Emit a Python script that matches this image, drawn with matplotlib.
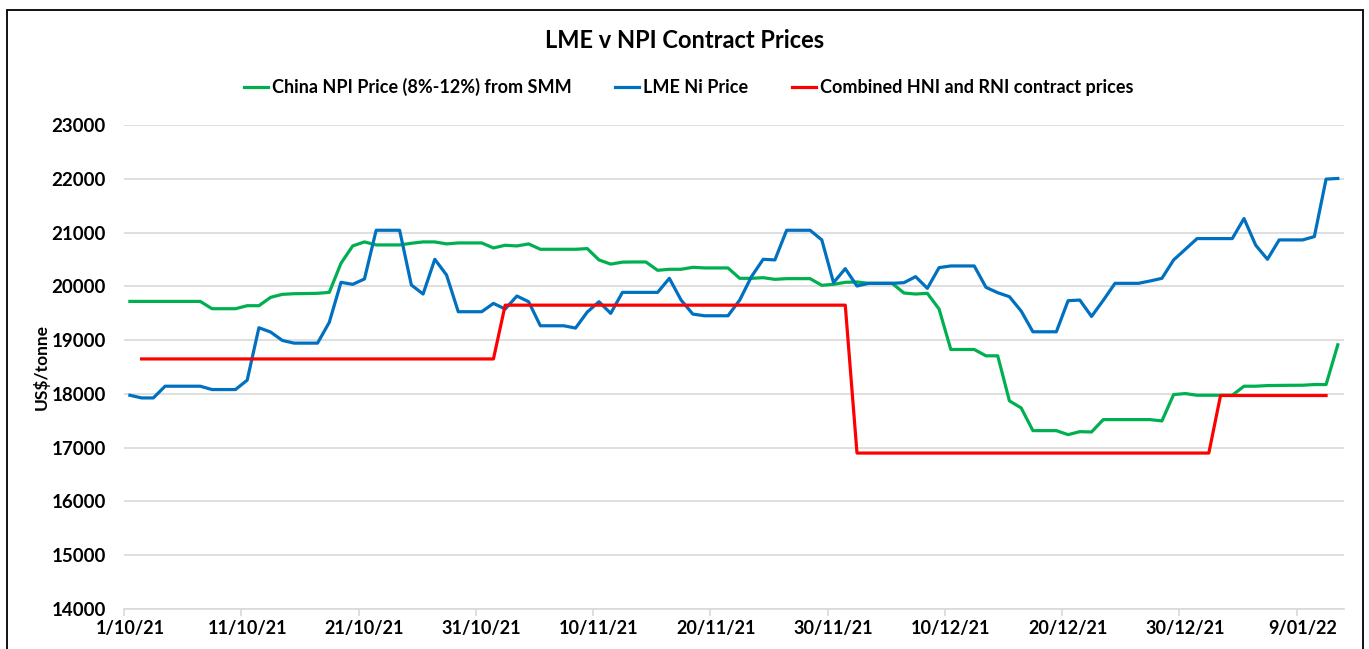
import matplotlib
matplotlib.use("Agg")
import matplotlib.pyplot as plt
from matplotlib.patches import Rectangle
import numpy as np
import pandas as pd

plt.rcParams['font.family'] = ['Lato', 'DejaVu Sans']

start_date = "2021-10-01"
n_days = 104

lme_ni = [17975, 17925, 17925, 18143, 18143, 18143, 18143, 18081, 18081, 18081,
          18255, 19230, 19150, 18994, 18944, 18944, 18944, 19330, 20075, 20037,
          20137, 21043, 21043, 21043, 20025, 19857, 20503, 20211, 19528, 19528,
          19528, 19683, 19578, 19820, 19714, 19267, 19267, 19267, 19224, 19522,
          19714, 19497, 19888, 19888, 19888, 19888, 20149, 19745, 19484, 19453,
          19453, 19453, 19745, 20180, 20503, 20491, 21043, 21043, 21043, 20863,
          20068, 20329, 20006, 20056, 20056, 20056, 20068, 20180, 19963, 20348,
          20379, 20379, 20379, 19981, 19882, 19807, 19540, 19155, 19155, 19155,
          19733, 19745, 19440, 19740, 20056, 20056, 20056, 20100, 20149, 20491,
          20689, 20888, 20888, 20888, 20888, 21261, 20764, 20503, 20863, 20863,
          20863, 20925, 21994, 22006]

china_npi = [19720, 19720, 19720, 19720, 19720, 19720, 19720, 19584, 19584, 19584,
             19640, 19640, 19795, 19851, 19863, 19866, 19870, 19888, 20429, 20752,
             20826, 20770, 20770, 20770, 20801, 20826, 20826, 20789, 20807, 20807,
             20807, 20714, 20764, 20751, 20789, 20689, 20689, 20689, 20689, 20702,
             20491, 20413, 20450, 20453, 20453, 20298, 20317, 20317, 20354, 20342,
             20342, 20342, 20149, 20149, 20161, 20130, 20143, 20143, 20143, 20019,
             20037, 20075, 20081, 20056, 20056, 20056, 19876, 19857, 19870, 19578,
             18826, 18826, 18826, 18708, 18708, 17870, 17739, 17317, 17317, 17317,
             17242, 17298, 17292, 17522, 17522, 17522, 17522, 17522, 17497, 17988,
             18006, 17975, 17975, 17975, 17975, 18143, 18143, 18155, 18158, 18160,
             18161, 18174, 18174, 18913]

contract = ([np.nan] + [18650] * 31 + [19650] * 30 + [16900] * 31 +
            [17970] * 10 + [np.nan])

series_names = ["China NPI Price (8%-12%) from SMM", "LME Ni Price",
                "Combined HNI and RNI contract prices"]
series_colors = ["#00B050", "#0070C0", "#FF0000"]

dates = pd.date_range(start_date, periods=n_days, freq="D")
x_pts = dates + pd.Timedelta(hours=12)
tick_dates = pd.date_range(start_date, periods=11, freq="10D")
tick_labels = [f"{d.day}/{d.month:02d}/{d.strftime('%y')}" for d in tick_dates]

fig = plt.figure(figsize=(13.69, 6.49), dpi=100)
ax = fig.add_axes([0.0906, 0.0616, 0.8909, 0.7458])

for vals, name, col in zip([china_npi, lme_ni, contract], series_names, series_colors):
    ax.plot(x_pts, vals, color=col, lw=2.3, label=name, solid_joinstyle="round")

ax.set_ylim(14000, 23000)
ax.set_yticks(np.arange(14000, 23001, 1000))
ax.set_xlim(dates[0], dates[0] + pd.Timedelta(days=n_days))
ax.set_xticks(tick_dates)
ax.set_xticklabels([])
ax.set_xticks(tick_dates + pd.Timedelta(hours=12), minor=True)
ax.set_xticklabels(tick_labels, minor=True, fontsize=13, fontweight="bold")
ax.tick_params(axis="x", which="major", length=5, color="#d9d9d9", width=1.2)
ax.tick_params(axis="x", which="minor", length=0, pad=8)
ax.tick_params(axis="y", length=0, pad=13, labelsize=13.5)
for lab in ax.get_yticklabels():
    lab.set_fontweight("bold")

ax.grid(axis="y", color="#d9d9d9", lw=1.2)
ax.set_axisbelow(True)
for s in ["top", "right", "left"]:
    ax.spines[s].set_visible(False)
ax.spines["bottom"].set_color("#d9d9d9")
ax.spines["bottom"].set_linewidth(1.2)

ax.set_ylabel("US$/tonne", fontsize=12.5, fontweight="bold")
ax.yaxis.set_label_coords(-0.0607, 0.5)

fig.text(0.5, 1 - 40 / 649, "LME v NPI Contract Prices", ha="center", va="center",
         fontsize=17, fontweight="bold")

leg = fig.legend(loc="center", bbox_to_anchor=(0.503, 1 - 87 / 649), ncol=3,
                 frameon=False, handlelength=1.35, handletextpad=0.22,
                 columnspacing=2.4, prop={"weight": "bold", "size": 13})

fig.patches.append(Rectangle((6.7 / 1369, -0.05), (1363 - 6.7) / 1369, 1.05 - 9.5 / 649,
                             transform=fig.transFigure, fill=False, edgecolor="black",
                             lw=1.3))

fig.savefig("out.png", dpi=100)
